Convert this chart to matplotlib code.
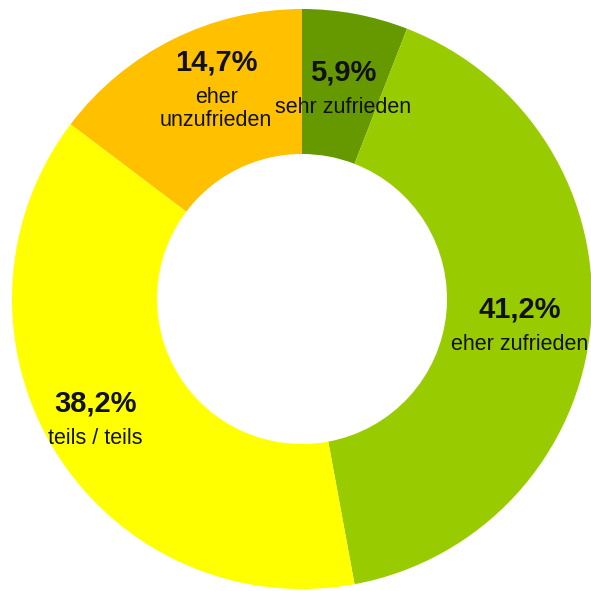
import numpy as np
import matplotlib
matplotlib.use("Agg")
import matplotlib.pyplot as plt

# Zufriedenheit (Anteile in %)
categories = ["sehr zufrieden", "eher zufrieden", "teils / teils", "eher\nunzufrieden"]
values = [5.9, 41.2, 38.2, 14.7]
pct_labels = ["5,9%", "41,2%", "38,2%", "14,7%"]
colors = ["#669900", "#99CC00", "#FFFF00", "#FFC000"]

# Lage der Beschriftungen (Radius, Winkelverschiebung in Grad)
label_r = [0.738, 0.757, 0.825, 0.815]
label_shift = [-0.45, -1.5, -1.4, -5.15]

plt.rcParams['font.family'] = ['Liberation Sans', 'DejaVu Sans']

fig = plt.figure(figsize=(5.91, 5.91), dpi=100)
ax = fig.add_axes([0, 0, 1, 1])

wedges, _ = ax.pie(values, colors=colors, startangle=90, counterclock=False,
                   radius=1.0, wedgeprops=dict(width=0.5, edgecolor='none'))

# Beschriftungen in der Mitte der Segmente
for w, pct, name, r, sh in zip(wedges, pct_labels, categories, label_r, label_shift):
    ang = np.deg2rad((w.theta1 + w.theta2) / 2 + sh)
    x, y = r * np.cos(ang), r * np.sin(ang)
    ax.annotate(pct, (x, y), xytext=(0, 6), textcoords='offset points',
                ha='center', va='baseline', fontsize=21, fontweight='bold',
                color='#111111')
    ax.annotate(name, (x, y), xytext=(0, -6), textcoords='offset points',
                ha='center', va='top', fontsize=15.5, color='#111111',
                linespacing=1.1)

ax.set_xlim(-302 / 290, 289 / 290)
ax.set_ylim(-292 / 290, 299 / 290)
ax.set_aspect('equal')
ax.axis('off')

fig.savefig("out.png", dpi=100, facecolor='white')
